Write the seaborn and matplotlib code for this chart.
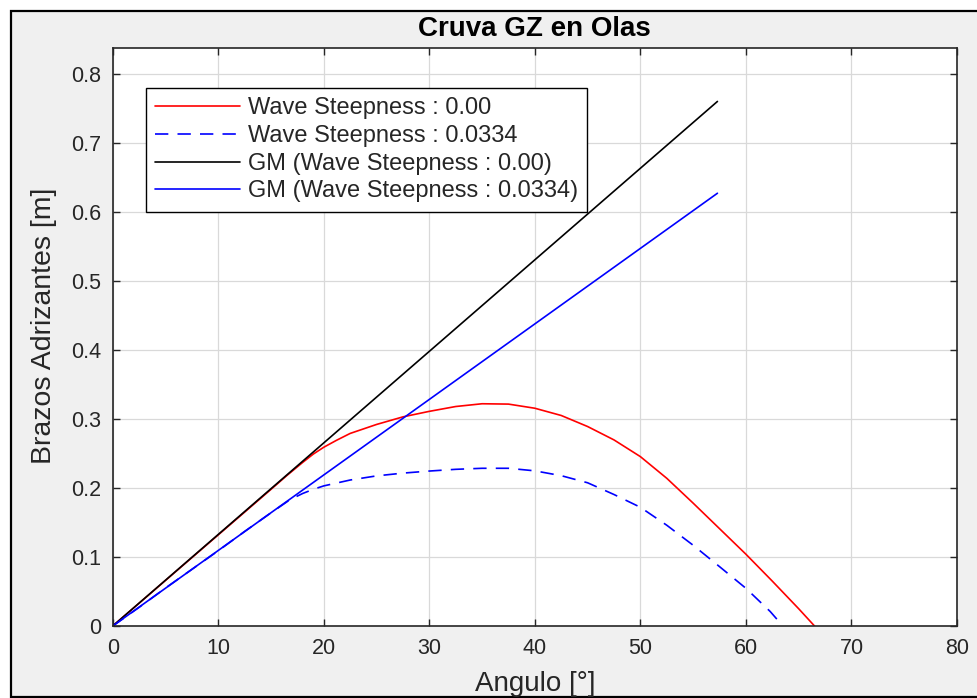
import numpy as np
import pandas as pd
import matplotlib
matplotlib.use("Agg")
import matplotlib.pyplot as plt
from matplotlib.patches import Rectangle
import seaborn as sns

# ---- data ----
ang_calm = [0, 2.5, 5, 7.5, 10, 12.5, 15, 16.5, 18, 19, 20, 21.2, 22.5, 25, 27.5,
            30, 32.5, 35, 37.5, 40, 42.5, 45, 47.5, 50, 52.5, 55, 57.5, 60,
            62.5, 65, 66.5]
gz_calm = [0, 0.033, 0.066, 0.099, 0.132, 0.165, 0.198, 0.218, 0.237, 0.249, 0.259,
           0.269, 0.279, 0.292, 0.303, 0.311, 0.318, 0.322, 0.3215, 0.3155, 0.305,
           0.289, 0.2696, 0.2454, 0.214, 0.178, 0.141, 0.104, 0.065, 0.025, 0.0]

ang_wave = [0, 2.5, 5, 7.5, 10, 12.5, 15, 16.8, 18, 19, 20, 22.5, 25, 27.5, 30,
            32.5, 35, 37.5, 40, 42.5, 45, 47.5, 50, 52.5, 55, 57.5, 60, 62.3, 63.5]
gz_wave = [0, 0.027, 0.055, 0.082, 0.109, 0.137, 0.164, 0.183, 0.192, 0.198, 0.203,
           0.2115, 0.2175, 0.2215, 0.2245, 0.227, 0.2285, 0.2285, 0.2248, 0.2178,
           0.2075, 0.1905, 0.172, 0.146, 0.117, 0.086, 0.0546, 0.021, 0.0]

ang_gm = [0, 57.3]
gm_calm = [0, 0.76]
gm_wave = [0, 0.627]

labels = ["Wave Steepness : 0.00", "Wave Steepness : 0.0334",
          "GM (Wave Steepness : 0.00)", "GM (Wave Steepness : 0.0334)"]
xticks = [0, 10, 20, 30, 40, 50, 60, 70, 80]
yticks = [0, 0.1, 0.2, 0.3, 0.4, 0.5, 0.6, 0.7, 0.8]
ytick_labels = ["0", "0.1", "0.2", "0.3", "0.4", "0.5", "0.6", "0.7", "0.8"]

sns.set_theme(style="white")
plt.rcParams["font.family"] = ["Liberation Sans", "DejaVu Sans"]

W, H = 977, 698
fig = plt.figure(figsize=(W / 100, H / 100), dpi=100, facecolor="white")

# figure frame (gray panel with black border)
fig.patches.append(Rectangle((11 / W, 1.3 / H), 1.2, (697 - 11) / H,
                             transform=fig.transFigure, facecolor="#f0f0f0",
                             edgecolor="black", linewidth=1.6, zorder=-10))

left, right, top, bottom = 112.7, 957, 48.3, 626
ax = fig.add_axes([left / W, (H - bottom) / H, (right - left) / W, (bottom - top) / H])
ax.set_facecolor("white")

df_c = pd.DataFrame({"x": ang_calm, "y": gz_calm})
df_w = pd.DataFrame({"x": ang_wave, "y": gz_wave})
df_gc = pd.DataFrame({"x": ang_gm, "y": gm_calm})
df_gw = pd.DataFrame({"x": ang_gm, "y": gm_wave})

lw = 1.2
sns.lineplot(data=df_c, x="x", y="y", ax=ax, color="#ff0000", linewidth=lw, label=labels[0])
sns.lineplot(data=df_w, x="x", y="y", ax=ax, color="#0000ff", linewidth=lw,
             linestyle=(0, (8, 5.5)), label=labels[1])
sns.lineplot(data=df_gc, x="x", y="y", ax=ax, color="black", linewidth=lw, label=labels[2])
sns.lineplot(data=df_gw, x="x", y="y", ax=ax, color="#0000ff", linewidth=lw, label=labels[3])

ax.set_xlim(0, 80)
ax.set_ylim(0, 0.837)
ax.set_xticks(xticks)
ax.set_xticklabels([str(v) for v in xticks])
ax.set_yticks(yticks)
ax.set_yticklabels(ytick_labels)
ax.grid(True, color="#d9d9d9", linewidth=0.9)
ax.set_axisbelow(True)
for s in ax.spines.values():
    s.set_color("#262626")
    s.set_linewidth(1.2)
    s.set_visible(True)
ax.tick_params(axis="both", which="both", direction="in", length=5, width=1.0,
               colors="#262626", labelsize=15.5, top=True, right=True,
               bottom=True, left=True)
ax.tick_params(axis="x", pad=9)
ax.tick_params(axis="y", pad=8)

ax.set_xlabel("Angulo [°]", fontsize=20, color="#262626", labelpad=8)
ax.set_ylabel("Brazos Adrizantes [m]", fontsize=20.5, color="#262626")
ax.yaxis.set_label_coords((57 - left) / (right - left), (bottom - 326) / (bottom - top))
ax.set_title("Cruva GZ en Olas", fontsize=20, fontweight="bold", color="black", pad=9)

leg = ax.legend(loc="upper left",
                bbox_to_anchor=((146 - left) / (right - left), (bottom - 88) / (bottom - top)),
                borderaxespad=0, fontsize=17, frameon=True, fancybox=False,
                edgecolor="black", framealpha=1, handlelength=3.6, handletextpad=0.3,
                labelspacing=0.24, borderpad=0.4)
leg.get_frame().set_linewidth(1.0)
for t in leg.get_texts():
    t.set_color("#262626")

fig.savefig("out.png", dpi=100, facecolor=fig.get_facecolor())
